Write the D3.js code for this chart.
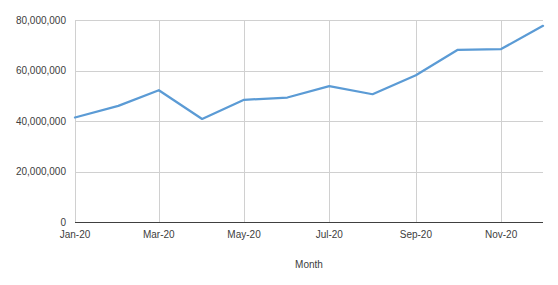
<!DOCTYPE html>
<html><head><meta charset="utf-8">
<script src="https://cdn.jsdelivr.net/npm/d3@7"></script>
<style>body{margin:0;background:#fff}svg{display:block}text{font-family:"Liberation Sans",Arial,sans-serif;fill:#404040}</style>
</head><body><svg id="c" width="558" height="285"></svg>
<script>
const months = ["2020-01","2020-02","2020-03","2020-04","2020-05","2020-06","2020-07","2020-08","2020-09","2020-10","2020-11","2020-12"];
const values = [41400000,46000000,52200000,40800000,48400000,49300000,53800000,50600000,58100000,68200000,68500000,77700000];
const yTicks = [0,20000000,40000000,60000000,80000000];
const xTickMonths = ["2020-01","2020-03","2020-05","2020-07","2020-09","2020-11"];
const xTitle = "Month";

const parse = d3.timeParse("%Y-%m");
const data = months.map((m,i)=>({d:parse(m),v:values[i]}));
const svg = d3.select("#c");
const L=75,R=543,T=20,B=222;
const x = d3.scaleTime().domain([parse(months[0]),parse(months[months.length-1])]).range([L,R]);
const y = d3.scaleLinear().domain([0,80000000]).range([B,T]);
const fmt = d3.format(",");
const mfmt = d3.timeFormat("%b-%y");

// horizontal grid
svg.append("g").selectAll("line").data(yTicks.filter(t=>t>0)).join("line")
  .attr("x1",L).attr("x2",R).attr("y1",d=>Math.round(y(d))+0.5).attr("y2",d=>Math.round(y(d))+0.5)
  .attr("stroke","#d0d0d0").attr("stroke-width",1);
// vertical grid
svg.append("g").selectAll("line").data(xTickMonths.map(parse)).join("line")
  .attr("x1",d=>Math.round(x(d))+0.5).attr("x2",d=>Math.round(x(d))+0.5).attr("y1",T).attr("y2",B)
  .attr("stroke","#d0d0d0").attr("stroke-width",1);
// x axis line
svg.append("line").attr("x1",L).attr("x2",R).attr("y1",Math.round(y(0))+0.5).attr("y2",Math.round(y(0))+0.5)
  .attr("stroke","#404040").attr("stroke-width",1);
// y labels
svg.append("g").selectAll("text").data(yTicks).join("text")
  .attr("x",66).attr("y",d=>y(d)).attr("dy","0.35em").attr("text-anchor","end")
  .attr("font-size",10).text(d=>fmt(d));
// x labels
svg.append("g").selectAll("text").data(xTickMonths.map(parse)).join("text")
  .attr("x",d=>x(d)).attr("y",238).attr("text-anchor","middle")
  .attr("font-size",10).text(d=>mfmt(d));
svg.append("text").attr("x",309).attr("y",268).attr("text-anchor","middle").attr("font-size",10).text(xTitle);
// line
svg.append("path").datum(data).attr("fill","none").attr("stroke","#5b9bd5").attr("stroke-width",2.25)
  .attr("stroke-linejoin","round").attr("stroke-linecap","round")
  .attr("d",d3.line().x(d=>x(d.d)).y(d=>y(d.v)));
</script></body></html>
